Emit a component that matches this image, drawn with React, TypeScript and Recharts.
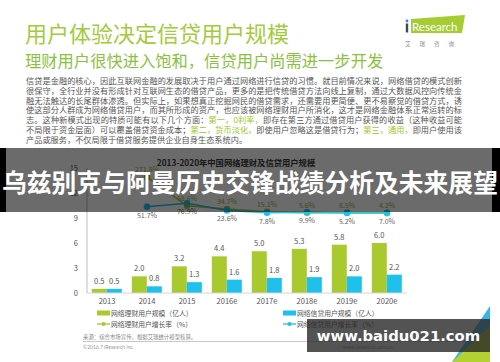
import React from "react";
import { ComposedChart, Bar, Line, XAxis, YAxis, LabelList } from "recharts";

// chart values
const years = ["2013", "2014", "2015", "2016e", "2017e", "2018e", "2019e", "2020e"];
const licaiUsers = [0.5, 2.0, 3.2, 4.4, 5.0, 5.3, 5.8, 6.0];
const xindaiUsers = [0.5, 0.8, 1.3, 1.6, 1.8, 1.9, 2.0, 2.2];
const licaiGrowth = [null, 271.8, 58.6, 34.7, 15.1, 5.6, 8.5, 4.2];
const xindaiGrowth = [null, 51.7, 76.9, 23.6, 7.8, 9.9, 5.2, 7.0];
const yTicks = [0, 3, 6, 9, 12, 15];

const GREEN = "#a9ca2f";
const BLUE = "#1fc0ec";
const CJK = '"Noto Sans CJK SC", "Noto Sans", sans-serif';

const chartData = years.map((year, i) => ({
  year,
  licai: licaiUsers[i],
  xindai: xindaiUsers[i],
  licaiRate: licaiGrowth[i],
  xindaiRate: xindaiGrowth[i],
}));

const pct = (v: any) => (v == null ? "" : `${Number(v).toFixed(1)}%`);
const num = (v: any) => Number(v).toFixed(1);

const paragraph: Array<Array<[string, boolean]>> = [
  [["信贷是金融的核心，因此互联网金融的发展取决于用户通过网络进行信贷的习惯。就目前情况来说，网络借贷的模式创新", false]],
  [["很保守，全行业并没有形成针对互联网生态的借贷产品，更多的是把传统借贷方法向线上复制，通过大数据风控向传统金", false]],
  [["融无法触达的长尾群体渗透。但实际上，如果想真正挖掘网民的借贷需求，还需要用更简便、更不易察觉的借贷方式，诱", false]],
  [["使这部分人群成为网络借贷用户，而其所形成的资产，也应该被网络理财用户所消化，这才是网络金融体系正常运转的标", false]],
  [
    ["志。这种新模式出现的特质可能有以下几个方面：", false],
    ["第一，0利率，", true],
    ["即存在第三方通过借贷用户获得的收益（这种收益可能", false],
  ],
  [
    ["不局限于资金层面）可以覆盖借贷资金成本；", false],
    ["第二，货币淡化，", true],
    ["即使用户忽略这是借贷行为；", false],
    ["第三，通用，", true],
    ["即用户使用该", false],
  ],
  [["产品或服务，不仅局限于借贷服务提供企业自身生态系统内。", false]],
];

function LegendRow({ x, y, color, kind, label }: { x: number; y: number; color: string; kind: "bar" | "line"; label: string }) {
  return (
    <div style={{ position: "absolute", left: x, top: y - 5, height: 10, display: "flex", alignItems: "center" }}>
      <svg width={13} height={10}>
        {kind === "bar" ? (
          <rect x={0} y={2.5} width={13} height={5} fill={color} />
        ) : (
          <g>
            <line x1={0} y1={5} x2={13} y2={5} stroke={color} strokeWidth={1.3} />
            <circle cx={6.5} cy={5} r={2} fill={color} />
          </g>
        )}
      </svg>
      <span style={{ fontSize: 6.8, color: "#555", marginLeft: 1, whiteSpace: "nowrap" }}>{label}</span>
    </div>
  );
}

export default function App() {
  return (
    <div
      style={{
        position: "absolute",
        left: 0,
        top: 0,
        width: 500,
        height: 362,
        overflow: "hidden",
        background: "#fff",
        fontFamily: CJK,
      }}
    >
      {/* slide header */}
      <div style={{ position: "absolute", left: 25, top: 19, fontSize: 22, lineHeight: "26px", color: "#a3cb3d", whiteSpace: "nowrap" }}>
        用户体验决定信贷用户规模
      </div>
      <div style={{ position: "absolute", left: 25, top: 50, fontSize: 16.3, lineHeight: "20px", color: "#8cc13f", whiteSpace: "nowrap" }}>
        理财用户很快进入饱和，信贷用户尚需进一步开发
      </div>

      {/* iResearch logo */}
      <svg style={{ position: "absolute", left: 400, top: 10 }} width={75} height={40}>
        <polygon points="11,9 65,5 62,23 11,23" fill="#a6cc34" />
        <circle cx={7} cy={11} r={1.4} fill="#1f8fd0" />
        <rect x={5.8} y={13.5} width={2.4} height={9} fill="#3a4a5a" />
        <text x={12} y={21} fontSize={11.5} fill="#fff" fontFamily="Lato, sans-serif">Research</text>
        <text x={5} y={36} fontSize={5.5} fill="#888" letterSpacing={9}>艾瑞咨询</text>
      </svg>

      {/* body text */}
      <div style={{ position: "absolute", left: 26, top: 76, width: 436, fontSize: 8.2, lineHeight: "9.8px", color: "#555" }}>
        {paragraph.map((line, i) => (
          <div
            key={i}
            style={{
              whiteSpace: "nowrap",
              textAlign: i < paragraph.length - 1 ? "justify" : "left",
              textAlignLast: i < paragraph.length - 1 ? "justify" : "left",
            }}
          >
            {line.map(([t, hi], j) => (
              <span key={j} style={{ color: hi ? "#9cc82a" : undefined }}>{t}</span>
            ))}
          </div>
        ))}
      </div>

      {/* chart title */}
      <div style={{ position: "absolute", left: 0, width: 472, top: 156, textAlign: "center", fontSize: 8.3, fontWeight: 700, color: "#3a3a3a" }}>
        2013-2020年中国网络理财及信贷用户规模
      </div>

      {/* chart */}
      <div style={{ position: "absolute", left: 0, top: 150 }}>
        <ComposedChart
          width={500}
          height={170}
          data={chartData}
          margin={{ top: 18, right: 93, bottom: 7, left: 57 }}
          barCategoryGap="12%"
          barGap={0}
        >
          <XAxis
            dataKey="year"
            interval={0}
            height={20}
            tickLine={false}
            tickSize={4}
            axisLine={{ stroke: "#d6d6d6" }}
            tick={{ fontSize: 7.5, fill: "#555" }}
          />
          <YAxis
            yAxisId="left"
            width={30}
            domain={[0, 15]}
            ticks={yTicks}
            interval={0}
            tickLine={false}
            tickMargin={3}
            axisLine={{ stroke: "#bdbdbd" }}
            tick={{ fontSize: 7.5, fill: "#555" }}
          />
          <YAxis yAxisId="right" orientation="right" hide domain={[-590, 340]} />
          <Bar yAxisId="left" dataKey="licai" fill={GREEN} isAnimationActive={false}>
            <LabelList dataKey="licai" position="top" offset={5} formatter={num} style={{ fontSize: 7.5, fill: "#555" }} />
          </Bar>
          <Bar yAxisId="left" dataKey="xindai" fill={BLUE} isAnimationActive={false}>
            <LabelList dataKey="xindai" position="top" offset={5} formatter={num} style={{ fontSize: 7.5, fill: "#555" }} />
          </Bar>
          <Line
            yAxisId="right"
            dataKey="licaiRate"
            stroke={GREEN}
            strokeWidth={1.5}
            dot={{ r: 2.5, fill: GREEN, stroke: GREEN }}
            isAnimationActive={false}
          >
            <LabelList dataKey="licaiRate" position="top" offset={5} formatter={pct} style={{ fontSize: 7, fill: "#a0b040" }} />
          </Line>
          <Line
            yAxisId="right"
            dataKey="xindaiRate"
            stroke={BLUE}
            strokeWidth={1.5}
            dot={{ r: 2.5, fill: BLUE, stroke: BLUE }}
            isAnimationActive={false}
          >
            <LabelList dataKey="xindaiRate" position="bottom" offset={6} formatter={pct} style={{ fontSize: 7, fill: "#666" }} />
          </Line>
        </ComposedChart>
      </div>

      {/* legend */}
      <LegendRow x={97} y={313} color={GREEN} kind="bar" label="网络理财用户规模（亿人）" />
      <LegendRow x={283} y={313} color={BLUE} kind="bar" label="网络信贷用户规模（亿人）" />
      <LegendRow x={97} y={324} color={GREEN} kind="line" label="网络理财用户增长率（%）" />
      <LegendRow x={283} y={324} color={BLUE} kind="line" label="网络信贷用户增长率（%）" />

      {/* footer */}
      <div style={{ position: "absolute", left: 83, top: 333, fontSize: 5.4, color: "#888", whiteSpace: "nowrap" }}>
        来源：综合市场宣传，根据艾瑞统计模型核算。
      </div>
      <div style={{ position: "absolute", left: 83, top: 341, width: 390, height: 1, background: "#c8c8c8" }} />
      <div style={{ position: "absolute", left: 83, top: 344, fontSize: 5, color: "#999", whiteSpace: "nowrap", fontFamily: "Lato, sans-serif" }}>
        ©2016.7 iResearch Inc.
      </div>
      <div style={{ position: "absolute", left: 343, top: 344, fontSize: 5, color: "#999", whiteSpace: "nowrap", fontFamily: "Lato, sans-serif" }}>
        www.iresearch.com.cn
      </div>
      <div style={{ position: "absolute", left: 474, top: 345, fontSize: 7, color: "#bbb", fontFamily: "Lato, sans-serif" }}>11</div>

      {/* corner decoration */}
      <svg style={{ position: "absolute", left: 440, top: 300 }} width={60} height={62}>
        <polygon points="50,6 50,62 12,62" fill="#3db5e2" />
        <polygon points="50,26 50,62 12,62" fill="#b3d231" />
      </svg>

      {/* dark title band */}
      <div style={{ position: "absolute", left: 0, top: 148, width: 500, height: 64, background: "rgba(0,0,0,0.58)" }} />
      <div style={{ position: "absolute", left: 0, top: 148, width: 6, height: 64, background: "#000" }} />
      <div style={{ position: "absolute", left: 492, top: 148, width: 8, height: 64, background: "#000" }} />
      <div
        style={{
          position: "absolute",
          left: 0,
          top: 166,
          width: 500,
          textAlign: "center",
          fontSize: 24.8,
          lineHeight: "30px",
          fontWeight: 700,
          color: "#fff",
          whiteSpace: "nowrap",
        }}
      >
        乌兹别克与阿曼历史交锋战绩分析及未来展望
      </div>

      {/* watermark */}
      <div
        style={{
          position: "absolute",
          left: 307,
          top: 319,
          width: 183,
          height: 33,
          background: "rgba(40,40,40,0.8)",
          color: "#fff",
          fontFamily: '"DejaVu Sans", sans-serif',
          fontWeight: 700,
          fontSize: 14.8,
          lineHeight: "33px",
          textAlign: "center",
          whiteSpace: "nowrap",
        }}
      >
        www.baidu021.com
      </div>
    </div>
  );
}
